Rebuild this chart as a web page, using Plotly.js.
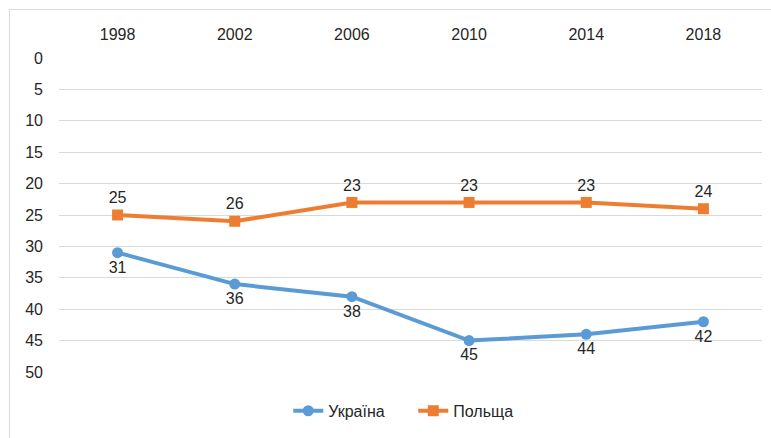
<!DOCTYPE html>
<html><head><meta charset="utf-8">
<script src="https://cdn.plot.ly/plotly-3.0.1.min.js"></script>
<style>
html,body{margin:0;padding:0;background:#fff;}
#wrap{position:relative;width:771px;height:438px;overflow:hidden;}
#chart{width:771px;height:438px;}
#frame{position:absolute;left:9px;top:9px;width:800px;height:500px;border:1px solid #d9d9d9;pointer-events:none;}
</style></head>
<body><div id="wrap"><div id="chart"></div><div id="frame"></div></div>
<script>
const years = ['1998','2002','2006','2010','2014','2018'];
const ukraine = [31, 36, 38, 45, 44, 42];
const poland = [25, 26, 23, 23, 23, 24];
const yTicks = [0,5,10,15,20,25,30,35,40,45,50];

const font = 'Liberation Sans, Arial, sans-serif';
const traces = [
  {x: years, y: ukraine, name: 'Україна', type: 'scatter', mode: 'lines+markers+text',
   line: {color: '#5B9BD5', width: 4}, marker: {symbol: 'circle', size: 11, color: '#5B9BD5'},
   text: ukraine.map(String), textposition: 'bottom center', cliponaxis: false,
   textfont: {family: font, size: 16, color: '#262626'}},
  {x: years, y: poland, name: 'Польща', type: 'scatter', mode: 'lines+markers+text',
   line: {color: '#ED7D31', width: 4}, marker: {symbol: 'square', size: 11, color: '#ED7D31'},
   text: poland.map(String), textposition: 'top center', cliponaxis: false,
   textfont: {family: font, size: 16, color: '#262626'}}
];
const layout = {
  width: 771, height: 438,
  margin: {l: 58.5, r: 9.3, t: 57.5, b: 65.5, pad: 0},
  paper_bgcolor: '#fff', plot_bgcolor: '#fff',
  font: {family: font, size: 16, color: '#262626'},
  showlegend: true,
  legend: {orientation: 'h', xref: 'container', yref: 'container', x: 0.536, xanchor: 'center',
           y: 0.062, yanchor: 'middle', entrywidth: 80, entrywidthmode: 'pixels',
           font: {family: font, size: 16, color: '#262626'}},
  xaxis: {type: 'category', side: 'top', range: [-0.5, 5.5], showgrid: false, zeroline: false,
          showline: false, ticks: '', ticklabelstandoff: 14, tickfont: {family: font, size: 16, color: '#262626'}},
  yaxis: {range: [50, 0], tickvals: yTicks, ticktext: yTicks.map(String), showgrid: true,
          gridcolor: '#d9d9d9', gridwidth: 1, zeroline: false, showline: false, ticks: '',
          ticklabelstandoff: 15, tickfont: {family: font, size: 16, color: '#262626'}}
};
Plotly.newPlot('chart', traces, layout, {displayModeBar: false, staticPlot: true});
</script></body></html>
